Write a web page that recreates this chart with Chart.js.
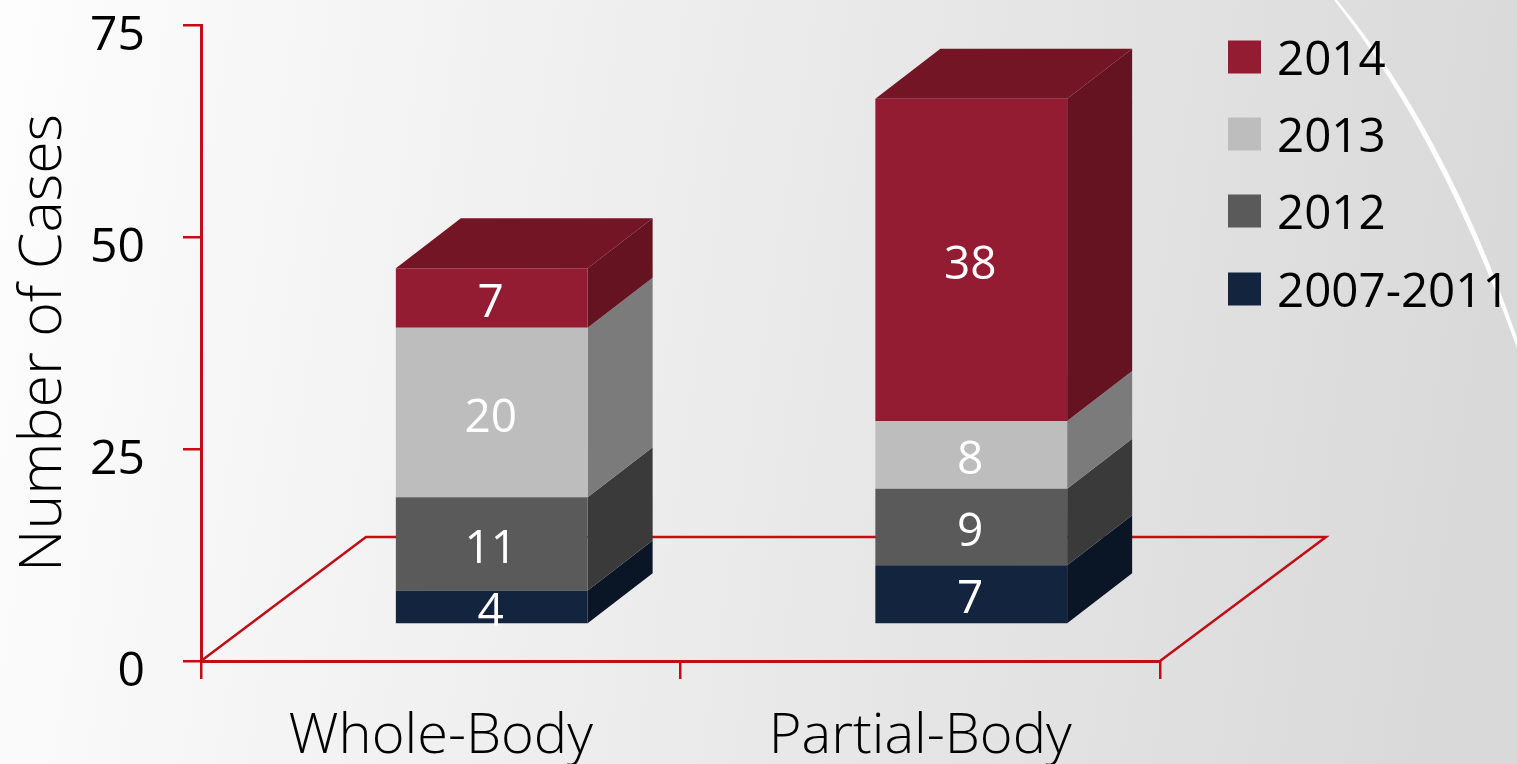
<!DOCTYPE html>
<html>
<head>
<meta charset="utf-8">
<style>html,body{margin:0;padding:0;background:#eee;overflow:hidden}#w{width:1517px;height:764px;position:relative}</style>
<script src="https://cdn.jsdelivr.net/npm/chart.js@4"></script>
</head>
<body>
<div id="w"><canvas id="c" width="1517" height="764"></canvas></div>
<script>
const categories = ["Whole-Body", "Partial-Body"];
const series2007 = [4, 7];
const series2012 = [11, 9];
const series2013 = [20, 8];
const series2014 = [7, 38];
const yTicks = [0, 25, 50, 75];
const seriesNames = ["2007-2011", "2012", "2013", "2014"];
const frontColors = ["#13243e", "#5a5a5a", "#bdbdbd", "#931c32"];
const sideColors = ["#0a1526", "#3a3a3a", "#7b7b7b", "#651221"];
const topColor = "#731525";
const RED = "#c00d16";
const FONT = "'Open Sans'";
const DX = 65, DY = 50, LIFT = 36.5, SHIFT = 51;

const scene = {
  id: "scene",
  beforeDraw(chart) {
    const { ctx, width: w, height: h } = chart;
    ctx.save();
    const g = ctx.createLinearGradient(0, 0, w, h * 0.3);
    g.addColorStop(0, "#fdfdfd");
    g.addColorStop(0.5, "#ebebeb");
    g.addColorStop(1, "#d9d9d9");
    ctx.fillStyle = g;
    ctx.fillRect(0, 0, w, h);
    // swoosh in the top right corner
    ctx.fillStyle = "#fff";
    ctx.beginPath();
    ctx.moveTo(1334, 0);
    ctx.quadraticCurveTo(1440, 135, 1517, 348);
    ctx.lineTo(1517, 338);
    ctx.quadraticCurveTo(1445, 130, 1337, 0);
    ctx.closePath();
    ctx.fill();
    ctx.restore();
  },
  beforeDatasetsDraw(chart) {
    const { ctx, scales: { x, y } } = chart;
    ctx.save();
    // floor
    const y0 = y.getPixelForValue(0);
    ctx.strokeStyle = RED;
    ctx.lineWidth = 2.5;
    ctx.beginPath();
    ctx.moveTo(x.left, y0);
    ctx.lineTo(x.left + 165, y0 - 124);
    ctx.lineTo(x.right + 166, y0 - 124);
    ctx.lineTo(x.right, y0);
    ctx.stroke();
    ctx.restore();
    // bars are lifted onto the floor
    ctx.save();
    ctx.translate(SHIFT, -LIFT);
    chart.data.datasets.forEach((ds, i) => {
      chart.getDatasetMeta(i).data.forEach(b => {
        const r = b.x + b.width / 2;
        ctx.fillStyle = sideColors[i];
        ctx.beginPath();
        ctx.moveTo(r, b.base);
        ctx.lineTo(r + DX, b.base - DY);
        ctx.lineTo(r + DX, b.y - DY);
        ctx.lineTo(r, b.y);
        ctx.closePath();
        ctx.fill();
      });
    });
    const last = chart.data.datasets.length - 1;
    chart.getDatasetMeta(last).data.forEach(b => {
      const l = b.x - b.width / 2, r = b.x + b.width / 2;
      ctx.fillStyle = topColor;
      ctx.beginPath();
      ctx.moveTo(l, b.y);
      ctx.lineTo(l + DX, b.y - DY);
      ctx.lineTo(r + DX, b.y - DY);
      ctx.lineTo(r, b.y);
      ctx.closePath();
      ctx.fill();
    });
  },
  afterDatasetsDraw(chart) {
    const { ctx } = chart;
    ctx.fillStyle = "#fff";
    ctx.font = "46px " + FONT;
    ctx.textAlign = "center";
    ctx.textBaseline = "middle";
    chart.data.datasets.forEach((ds, i) => {
      chart.getDatasetMeta(i).data.forEach((b, j) => {
        ctx.fillText(String(ds.data[j]), b.x - 1, (b.y + b.base) / 2 + 6);
      });
    });
    ctx.restore();
    // legend
    ctx.save();
    const rows = [57, 134, 211, 289];
    ctx.font = "47.5px " + FONT;
    ctx.textAlign = "left";
    ctx.textBaseline = "middle";
    rows.forEach((cy, k) => {
      const i = seriesNames.length - 1 - k;
      ctx.fillStyle = frontColors[i];
      ctx.fillRect(1228, cy - 16.5, 33, 33);
      ctx.fillStyle = "#000";
      ctx.fillText(seriesNames[i], 1277, cy + 4);
    });
    ctx.restore();
  }
};

new Chart(document.getElementById("c"), {
  type: "bar",
  data: {
    labels: categories,
    datasets: [series2007, series2012, series2013, series2014].map((d, i) => ({
      label: seriesNames[i],
      data: d,
      backgroundColor: frontColors[i],
      borderWidth: 0,
      categoryPercentage: 0.4,
      barPercentage: 1
    }))
  },
  options: {
    responsive: false,
    animation: false,
    layout: { padding: { top: 25, right: 357, left: 0, bottom: 0 } },
    plugins: { legend: { display: false }, tooltip: { enabled: false }, title: { display: false } },
    scales: {
      x: {
        stacked: true,
        afterFit(s) { s.height = 103; s.paddingLeft = 0; s.paddingRight = 0; },
        border: { color: RED, width: 3 },
        grid: { drawOnChartArea: false, color: RED, lineWidth: 2.5, tickLength: 18, offset: true },
        ticks: { color: "#000", font: { family: "'Open Sans'", size: 56, weight: 300 }, padding: 24, maxRotation: 0, autoSkip: false }
      },
      y: {
        stacked: true,
        min: 0,
        max: 75,
        afterBuildTicks(s) { s.ticks = yTicks.map(v => ({ value: v })); },
        afterFit(s) { s.width = 201; s.paddingTop = 0; s.paddingBottom = 0; },
        border: { color: RED, width: 3 },
        grid: { drawOnChartArea: false, color: RED, lineWidth: 2.5, tickLength: 18 },
        ticks: { color: "#000", font: { family: "'Open Sans'", size: 48 }, padding: 38, labelOffset: 11 },
        title: { display: true, text: "Number of Cases", color: "#000", font: { family: "'Open Sans'", size: 59, weight: 300 }, padding: { top: 9, bottom: 0 } }
      }
    }
  },
  plugins: [scene]
});
</script>
</body>
</html>
